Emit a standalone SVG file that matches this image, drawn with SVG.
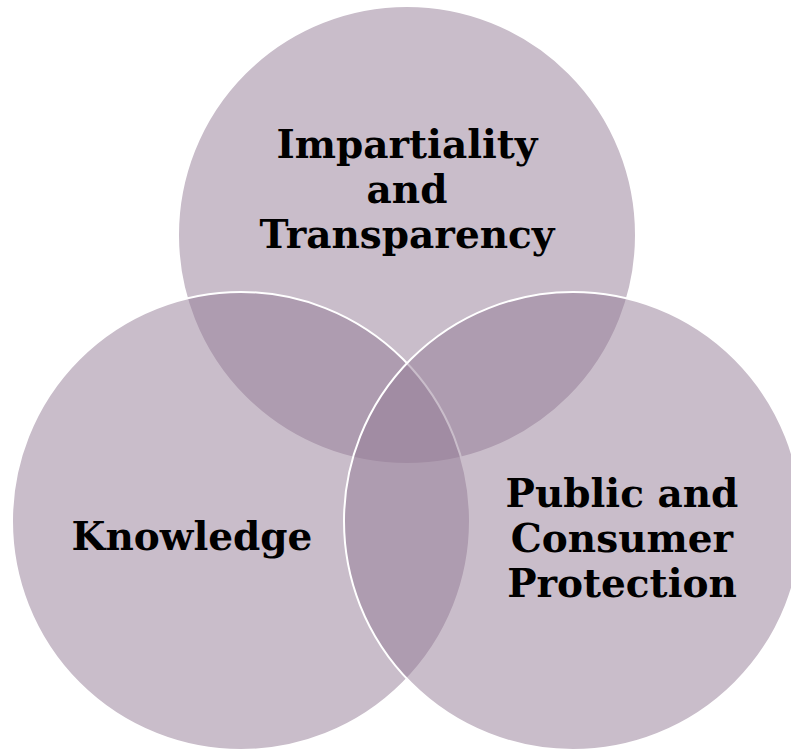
<svg xmlns="http://www.w3.org/2000/svg" width="791" height="750" viewBox="0 0 791 750">
  <style>
    .c { fill: #937b95; fill-opacity: 0.5; stroke: #ffffff; stroke-width: 2; }
    .t { font-family: "DejaVu Serif", "Liberation Serif", serif; font-weight: bold; font-size: 39px; fill: #000000; text-anchor: middle; }
  </style>
  <rect width="791" height="750" fill="#ffffff"/>
  <g id="impartiality">
    <circle class="c" cx="407" cy="235" r="229"/>
    <text class="t" x="407" y="158">Impartiality</text>
    <text class="t" x="407" y="203">and</text>
    <text class="t" x="407" y="248">Transparency</text>
  </g>
  <g id="knowledge">
    <circle class="c" cx="241" cy="521" r="229"/>
    <text class="t" x="192" y="550">Knowledge</text>
  </g>
  <g id="protection">
    <circle class="c" cx="573" cy="521" r="229"/>
    <text class="t" x="622" y="507">Public and</text>
    <text class="t" x="622" y="552">Consumer</text>
    <text class="t" x="622" y="597">Protection</text>
  </g>
  <g id="connectors"/>
</svg>
